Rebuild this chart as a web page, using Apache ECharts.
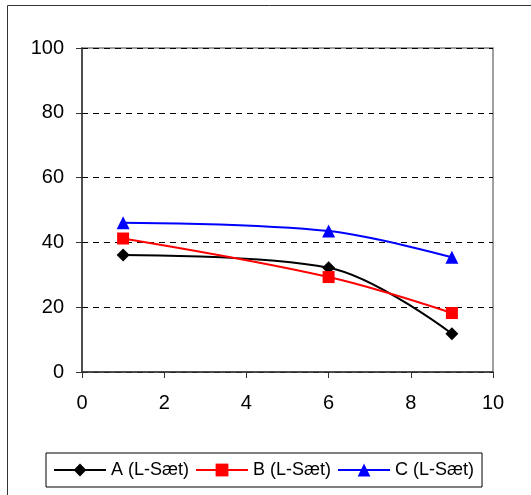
<!DOCTYPE html>
<html><head><meta charset="utf-8">
<script src="https://cdn.jsdelivr.net/npm/echarts@6/dist/echarts.min.js"></script>
<style>html,body{margin:0;padding:0;background:#fff}#c{width:531px;height:495px}</style>
</head><body><div id="c"></div>
<script>
const xValues = [1, 6, 9];
const seriesA = [36.1, 32.2, 11.8];
const seriesB = [41.2, 29.3, 18.2];
const seriesC = [46.1, 43.5, 35.4];
const seriesNames = ['A (L-Sæt)', 'B (L-Sæt)', 'C (L-Sæt)'];

const font = 'Liberation Sans, Arial, sans-serif';
const pair = arr => xValues.map((x, i) => [x, arr[i]]);
function mk(name, data, color, symbol, size) {
  return {
    name, type: 'line', data: pair(data), smooth: 0.35,
    symbol, symbolSize: size, showSymbol: true,
    lineStyle: { color, width: 2 },
    itemStyle: { color },
    emphasis: { disabled: true }
  };
}
const chart = echarts.init(document.getElementById('c'));
chart.setOption({
  animation: false,
  textStyle: { fontFamily: font },
  graphic: [{
    type: 'rect', shape: { x: 7.5, y: 5.5, width: 600, height: 600 },
    style: { fill: null, stroke: '#333', lineWidth: 1 }, silent: true, z: -1
  }],
  grid: { left: 82, right: 38, top: 48, bottom: 123, show: true, borderColor: '#808080', borderWidth: 1.5, backgroundColor: 'transparent' },
  xAxis: {
    type: 'value', min: 0, max: 10, interval: 2,
    axisLine: { show: true, onZero: false, lineStyle: { color: '#333', width: 1.5 } },
    axisTick: { show: true, length: 6, lineStyle: { color: '#333' } },
    axisLabel: { color: '#000', fontSize: 20, margin: 21, fontFamily: font },
    splitLine: { show: false }
  },
  yAxis: {
    type: 'value', min: 0, max: 100, interval: 20,
    axisLine: { show: true, onZero: false, lineStyle: { color: '#333', width: 1.5 } },
    axisTick: { show: true, length: 6, lineStyle: { color: '#333' } },
    axisLabel: { color: '#000', fontSize: 20, margin: 18, fontFamily: font },
    splitLine: { show: true, lineStyle: { color: '#000', type: [6, 5], width: 1 } }
  },
  legend: {
    left: 46, top: 453,
    itemWidth: 52, itemHeight: 16, itemGap: 6,
    borderColor: '#000', borderWidth: 1, padding: [8, 8, 8, 7],
    textStyle: { fontSize: 18, color: '#000', fontFamily: font },
    data: seriesNames
  },
  series: [
    mk(seriesNames[0], seriesA, '#000000', 'diamond', 13),
    mk(seriesNames[1], seriesB, '#FF0000', 'rect', 12),
    mk(seriesNames[2], seriesC, '#0000FF', 'triangle', 13)
  ]
});
</script></body></html>
